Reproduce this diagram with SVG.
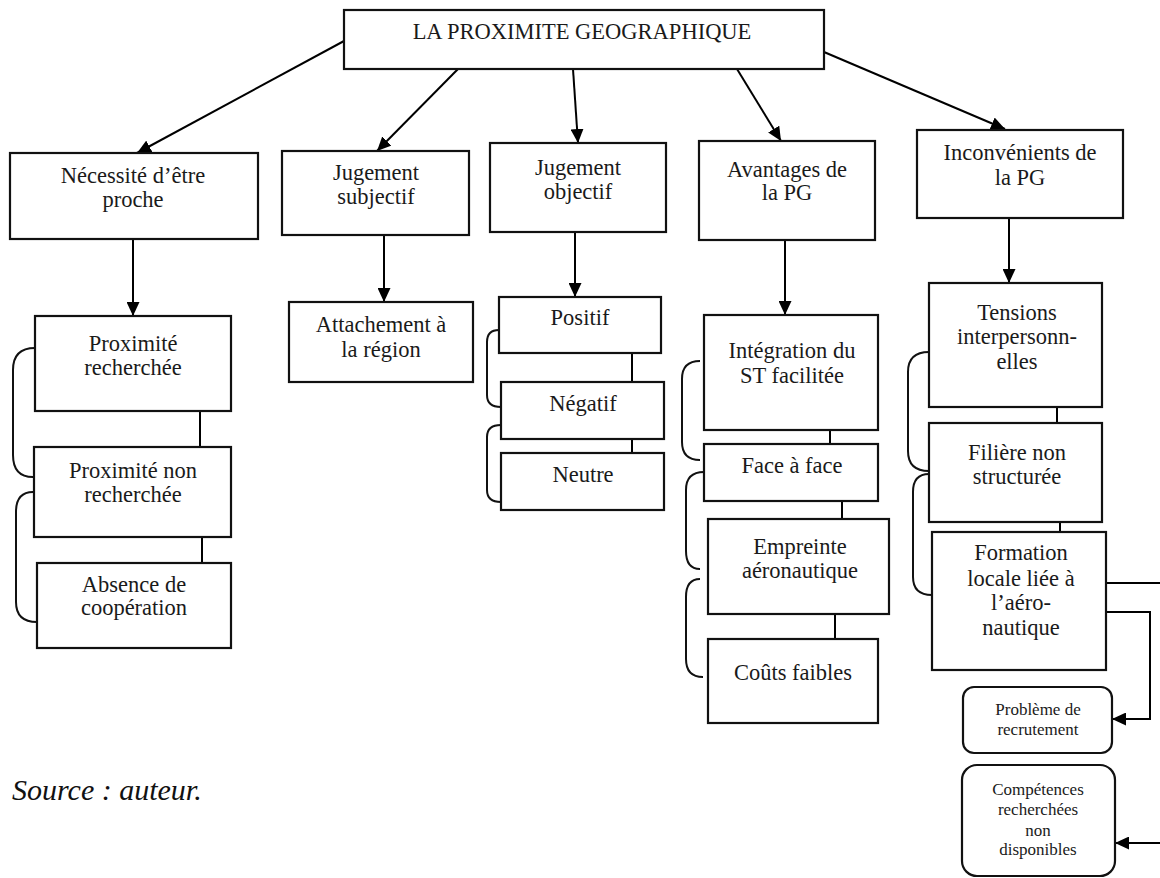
<svg xmlns="http://www.w3.org/2000/svg" width="1160" height="878" viewBox="0 0 1160 878">
<defs>
<marker id="ah" markerUnits="userSpaceOnUse" markerWidth="14" markerHeight="13" refX="14" refY="6.5" orient="auto">
<path d="M0,0 L14,6.5 L0,13 z" fill="#000"/>
</marker>
<style>
.box{fill:#fff;stroke:#111;stroke-width:2.2}
.t{font-family:"Liberation Serif","Times New Roman",serif;font-size:22.5px;fill:#1a1a1a;text-anchor:middle}
.s{font-family:"Liberation Serif","Times New Roman",serif;font-size:17px;fill:#1a1a1a;text-anchor:middle}
.ln{fill:none;stroke:#000;stroke-width:2}
.ar{fill:none;stroke:#000;stroke-width:2;marker-end:url(#ah)}
.br{fill:none;stroke:#111;stroke-width:2}
</style>
</defs>
<rect width="1160" height="878" fill="#fff"/>

<g id="connectors">
<line class="ar" x1="344" y1="41" x2="137" y2="153"/>
<line class="ar" x1="458" y1="69" x2="377" y2="151"/>
<line class="ar" x1="573" y1="69" x2="578" y2="143"/>
<line class="ar" x1="737" y1="69" x2="781" y2="141"/>
<line class="ar" x1="824" y1="52" x2="1005" y2="129"/>
<line class="ar" x1="133" y1="239" x2="133" y2="316"/>
<line class="ar" x1="384" y1="235" x2="384" y2="302"/>
<line class="ar" x1="575" y1="232" x2="575" y2="297"/>
<line class="ar" x1="785" y1="240" x2="785" y2="315"/>
<line class="ar" x1="1009" y1="198" x2="1009" y2="283"/>
<line class="ln" x1="200" y1="411" x2="200" y2="447"/>
<line class="ln" x1="202" y1="537" x2="202" y2="563"/>
<line class="ln" x1="632" y1="353" x2="632" y2="382"/>
<line class="ln" x1="632" y1="439" x2="632" y2="453"/>
<line class="ln" x1="830" y1="430" x2="830" y2="444"/>
<line class="ln" x1="842" y1="501" x2="842" y2="519"/>
<line class="ln" x1="835" y1="614" x2="835" y2="639"/>
<line class="ln" x1="1057" y1="407" x2="1057" y2="423"/>
<line class="ln" x1="1060" y1="522" x2="1060" y2="532"/>
<path class="br" d="M35 348 Q13 348 13 370 V455 Q13 477 33 477"/>
<path class="br" d="M33 492 Q16 492 16 512 V602 Q16 622 37 622"/>
<path class="br" d="M499 330 Q487 330 487 342 V395 Q487 407 501 407"/>
<path class="br" d="M501 425 Q487 425 487 437 V490 Q487 502 501 502"/>
<path class="br" d="M700 361 Q682 361 682 379 V442 Q682 460 700 460"/>
<path class="br" d="M704 472 Q686 472 686 490 V551 Q686 569 700 569"/>
<path class="br" d="M700 579 Q686 579 686 597 V659 Q686 677 703 677"/>
<path class="br" d="M929 352 Q908 352 908 372 V451 Q908 471 929 471"/>
<path class="br" d="M929 474 Q913 474 913 492 V577 Q913 595 932 595"/>
<path class="ar" d="M1106 583 H1163 V843 H1115"/>
<path class="ar" d="M1106 612 H1150 V719 H1112"/>
</g>

<g id="n-root">
<rect class="box" x="344" y="10" width="480" height="59"/>
<text class="t" x="582" y="39">LA PROXIMITE GEOGRAPHIQUE</text>
</g>

<g id="n-necessite">
<rect class="box" x="10" y="153" width="248" height="86"/>
<text class="t" x="133" y="183">Nécessité d’être</text>
<text class="t" x="133" y="207">proche</text>
</g>
<g id="n-subjectif">
<rect class="box" x="282" y="151" width="187" height="84"/>
<text class="t" x="376" y="180">Jugement</text>
<text class="t" x="376" y="204">subjectif</text>
</g>
<g id="n-objectif">
<rect class="box" x="490" y="143" width="176" height="89"/>
<text class="t" x="578" y="175">Jugement</text>
<text class="t" x="578" y="199">objectif</text>
</g>
<g id="n-avantages">
<rect class="box" x="699" y="141" width="176" height="99"/>
<text class="t" x="787" y="177">Avantages de</text>
<text class="t" x="787" y="200">la PG</text>
</g>
<g id="n-inconvenients">
<rect class="box" x="917" y="130" width="206" height="88"/>
<text class="t" x="1020" y="160">Inconvénients de</text>
<text class="t" x="1020" y="185">la PG</text>
</g>

<g id="n-prox-rech">
<rect class="box" x="35" y="316" width="196" height="95"/>
<text class="t" x="133" y="351">Proximité</text>
<text class="t" x="133" y="375">recherchée</text>
</g>
<g id="n-prox-non">
<rect class="box" x="34" y="447" width="197" height="90"/>
<text class="t" x="133" y="478">Proximité non</text>
<text class="t" x="133" y="502">recherchée</text>
</g>
<g id="n-absence">
<rect class="box" x="37" y="563" width="194" height="85"/>
<text class="t" x="134" y="592">Absence de</text>
<text class="t" x="134" y="615">coopération</text>
</g>

<g id="n-attachement">
<rect class="box" x="289" y="302" width="184" height="80"/>
<text class="t" x="381" y="332">Attachement à</text>
<text class="t" x="381" y="357">la région</text>
</g>

<g id="n-positif">
<rect class="box" x="499" y="297" width="162" height="56"/>
<text class="t" x="580" y="325">Positif</text>
</g>
<g id="n-negatif">
<rect class="box" x="501" y="382" width="163" height="57"/>
<text class="t" x="583" y="411">Négatif</text>
</g>
<g id="n-neutre">
<rect class="box" x="501" y="453" width="163" height="57"/>
<text class="t" x="583" y="482">Neutre</text>
</g>

<g id="n-integration">
<rect class="box" x="704" y="315" width="174" height="115"/>
<text class="t" x="792" y="358">Intégration du</text>
<text class="t" x="792" y="383">ST facilitée</text>
</g>
<g id="n-face">
<rect class="box" x="704" y="444" width="174" height="57"/>
<text class="t" x="792" y="473">Face à face</text>
</g>
<g id="n-empreinte">
<rect class="box" x="708" y="519" width="181" height="95"/>
<text class="t" x="800" y="554">Empreinte</text>
<text class="t" x="800" y="578">aéronautique</text>
</g>
<g id="n-couts">
<rect class="box" x="708" y="639" width="170" height="84"/>
<text class="t" x="793" y="680">Coûts faibles</text>
</g>

<g id="n-tensions">
<rect class="box" x="929" y="283" width="173" height="124"/>
<text class="t" x="1017" y="320">Tensions</text>
<text class="t" x="1017" y="344">interpersonn-</text>
<text class="t" x="1017" y="369">elles</text>
</g>
<g id="n-filiere">
<rect class="box" x="929" y="423" width="173" height="99"/>
<text class="t" x="1017" y="460">Filière non</text>
<text class="t" x="1017" y="484">structurée</text>
</g>
<g id="n-formation">
<rect class="box" x="932" y="532" width="174" height="138"/>
<text class="t" x="1021" y="560">Formation</text>
<text class="t" x="1021" y="586">locale liée à</text>
<text class="t" x="1021" y="610">l’aéro-</text>
<text class="t" x="1021" y="635">nautique</text>
</g>

<g id="n-probleme">
<rect class="box" x="963" y="687" width="149" height="66" rx="11"/>
<text class="s" x="1038" y="715">Problème de</text>
<text class="s" x="1038" y="735">recrutement</text>
</g>
<g id="n-competences">
<rect class="box" x="962" y="765" width="153" height="111" rx="15"/>
<text class="s" x="1038" y="795">Compétences</text>
<text class="s" x="1038" y="815">recherchées</text>
<text class="s" x="1038" y="836">non</text>
<text class="s" x="1038" y="855">disponibles</text>
</g>

<text x="12" y="800" font-family="'Liberation Serif','Times New Roman',serif" font-style="italic" font-size="30" fill="#111">Source : auteur.</text>
</svg>
